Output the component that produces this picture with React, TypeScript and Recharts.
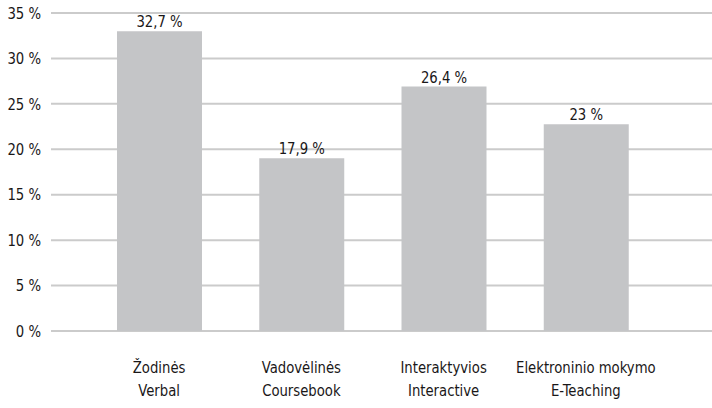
import React from "react";
import { BarChart, Bar, XAxis, YAxis, CartesianGrid, LabelList } from "recharts";

const categoriesLt = ["Žodinės", "Vadovėlinės", "Interaktyvios", "Elektroninio mokymo"];
const categoriesEn = ["Verbal", "Coursebook", "Interactive", "E-Teaching"];
const barValues = [33.0, 19.0, 26.9, 22.75];
const valueLabels = ["32,7 %", "17,9 %", "26,4 %", "23 %"];
const yTicks = [0, 5, 10, 15, 20, 25, 30, 35];

const data = categoriesLt.map((lt, i) => ({
  key: lt,
  lt,
  en: categoriesEn[i],
  value: barValues[i],
  label: valueLabels[i],
}));

const FONT = "'DejaVu Sans Condensed', 'Liberation Sans Narrow', 'DejaVu Sans', sans-serif";
const TEXT = "#1a1718";
const SX = 0.92;
const FS = 16;

const CatTick = (props: any) => {
  const { x, y, payload } = props;
  const i = payload.index;
  return (
    <g transform={`translate(${x},${y}) scale(${SX},1)`}>
      <text x={0} y={34} textAnchor="middle" fill={TEXT} style={{ fontFamily: FONT, fontSize: FS }}>
        {categoriesLt[i]}
      </text>
      <text x={0} y={57} textAnchor="middle" fill={TEXT} style={{ fontFamily: FONT, fontSize: FS }}>
        {categoriesEn[i]}
      </text>
    </g>
  );
};

const YTick = (props: any) => {
  const { x, y, payload } = props;
  return (
    <g transform={`translate(${x},${y}) scale(${SX},1)`}>
      <text x={0} y={0} dy="0.36em" textAnchor="end" fill={TEXT} style={{ fontFamily: FONT, fontSize: FS }}>
        {`${payload.value} %`}
      </text>
    </g>
  );
};

const ValueLabel = (props: any) => {
  const { x, y, width, value } = props;
  const cx = Number(x) + Number(width) / 2;
  return (
    <g transform={`translate(${cx},${Number(y) - 4}) scale(${SX},1)`}>
      <text x={0} y={0} textAnchor="middle" fill={TEXT} style={{ fontFamily: FONT, fontSize: FS }}>
        {value}
      </text>
    </g>
  );
};

export default function App() {
  return (
    <div style={{ position: "absolute", left: 0, top: 0, width: 712, height: 408, background: "#fff", fontFamily: FONT }}>
      <BarChart
        width={712}
        height={408}
        data={data}
        margin={{ top: 13, right: 0, bottom: 0, left: 0 }}
        barCategoryGap={0}
      >
        <CartesianGrid vertical={false} stroke="#cbcbcb" strokeWidth={2} />
        <XAxis
          dataKey="key"
          axisLine={false}
          tickLine={false}
          height={77}
          padding={{ left: 37, right: 55 }}
          interval={0}
          tick={<CatTick />}
        />
        <YAxis
          domain={[0, 35]}
          ticks={yTicks}
          width={51}
          axisLine={false}
          tickLine={false}
          tickMargin={4}
          tick={<YTick />}
        />
        <Bar dataKey="value" fill="#c4c5c7" barSize={85} isAnimationActive={false}>
          <LabelList dataKey="label" content={<ValueLabel />} />
        </Bar>
      </BarChart>
    </div>
  );
}
